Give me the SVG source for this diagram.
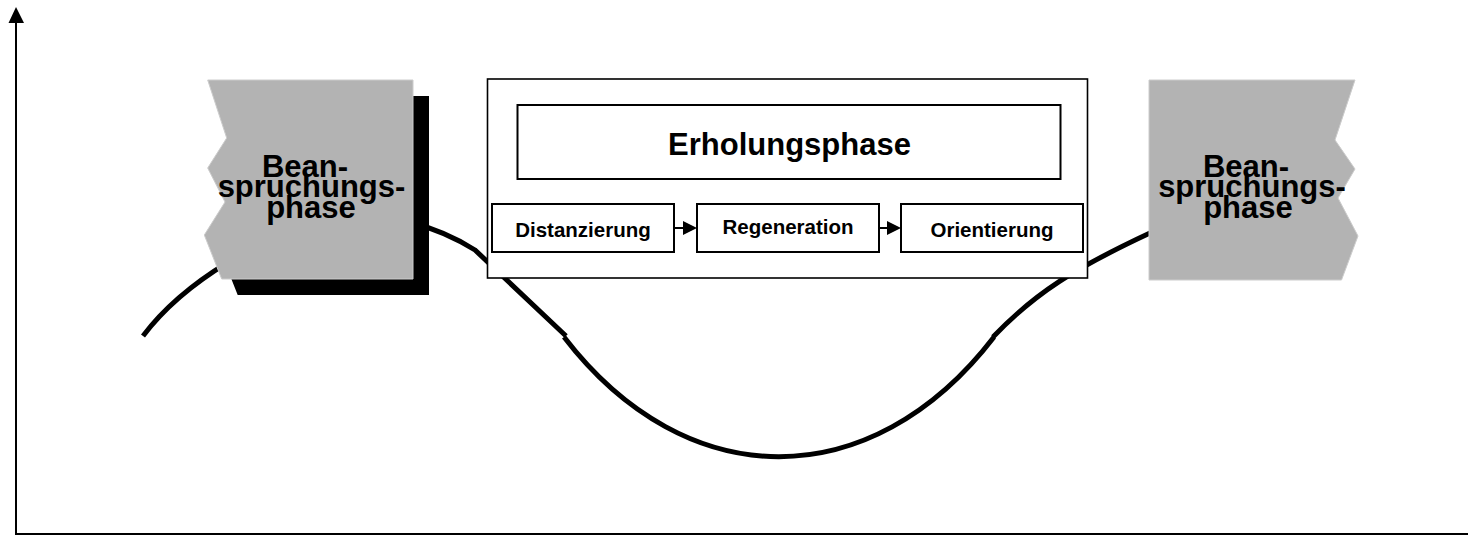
<svg xmlns="http://www.w3.org/2000/svg" width="1468" height="538" viewBox="0 0 1468 538">
<style>
.t{font-family:"Liberation Sans",Arial,sans-serif;font-weight:bold;fill:#000;text-anchor:middle}
.big{font-size:31px}
.sm{font-size:20.5px}
.gray{fill:#b3b3b3;stroke:#cccccc;stroke-width:1}
.box{fill:#fff;stroke:#000;stroke-width:2}
.curve{fill:none;stroke:#000;stroke-width:5}
.ax{fill:none;stroke:#000;stroke-width:2}
</style>
<defs>
<polygon id="ah" points="0,-7 14,0 0,7" fill="#000"/>
</defs>
<g id="axes">
<line class="ax" x1="16" y1="20" x2="16" y2="534"/>
<line class="ax" x1="15" y1="534" x2="1468" y2="534"/>
<polygon points="16,7 24,23 8.5,23" fill="#000"/>
</g>
<g id="curve">
<path class="curve" d="M143,336 C185,280 265,235 330,218 C390,210 440,228 475,250 L566,336"/>
<path class="curve" d="M564,337 C686,496 871,497 994,337"/>
<path class="curve" d="M993,337 C1035,293 1075,268 1150,233"/>
</g>
<g id="left-phase">
<polygon fill="#000" transform="translate(16,16)" points="207.7,80 413,80 413,279 221.7,279 204.3,235 225,202 207.7,168 226.7,138"/>
<polygon class="gray" points="207.7,80 413,80 413,279 221.7,279 204.3,235 225,202 207.7,168 226.7,138"/>
<text class="t big" x="305" y="177">Bean-</text>
<text class="t big" x="311.5" y="197">spruchungs-</text>
<text class="t big" x="311" y="218">phase</text>
</g>
<g id="right-phase">
<polygon class="gray" points="1149,80 1355,80 1335,140 1355,169 1338,198 1358,236 1341.5,280 1149,280"/>
<text class="t big" x="1246" y="177">Bean-</text>
<text class="t big" x="1252" y="197">spruchungs-</text>
<text class="t big" x="1248" y="218">phase</text>
</g>
<g id="erholung-frame">
<rect x="487.5" y="79" width="600" height="199" fill="#fff" stroke="#000" stroke-width="1.6"/>
</g>
<g id="erholungsphase">
<rect class="box" x="517.5" y="105" width="543" height="74"/>
<text class="t big" x="789.5" y="155">Erholungsphase</text>
</g>
<g id="distanzierung">
<rect class="box" x="492" y="204" width="182" height="48"/>
<text class="t sm" x="583" y="236.5">Distanzierung</text>
</g>
<g id="regeneration">
<rect class="box" x="697" y="204" width="182" height="48"/>
<text class="t sm" x="788" y="234">Regeneration</text>
</g>
<g id="orientierung">
<rect class="box" x="901" y="204" width="182" height="48"/>
<text class="t sm" x="992" y="236.5">Orientierung</text>
</g>
<g id="connectors">
<line x1="674" y1="228" x2="685" y2="228" stroke="#000" stroke-width="2"/>
<use href="#ah" x="683" y="228"/>
<line x1="879" y1="228" x2="889" y2="228" stroke="#000" stroke-width="2"/>
<use href="#ah" x="887" y="228"/>
</g>
</svg>
